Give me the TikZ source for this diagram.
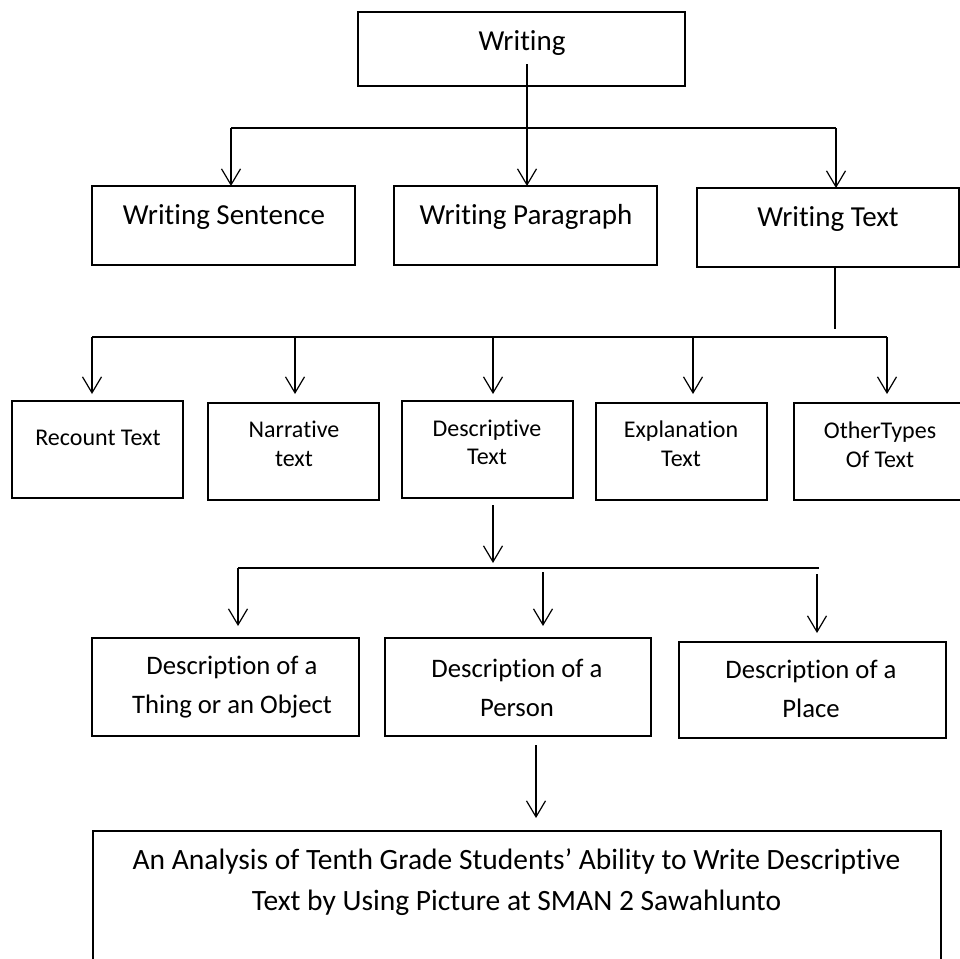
\documentclass[tikz,border=0pt]{standalone}
\usepackage{fontspec}
\setmainfont{Carlito}[Ligatures=NoCommon]
\usetikzlibrary{arrows.meta}
\tikzset{
  box/.style={draw, line width=2.2pt, inner sep=0pt, outer sep=0pt},
  conn/.style={line width=1.2pt},
  arr/.style={line width=1.2pt, -{Straight Barb[length=16pt,width=19pt,line width=1.2pt]}},
  bigtxt/.style={font=\fontsize{29}{35}\selectfont, inner sep=0pt, align=center},
  midtxt/.style={font=\fontsize{24}{28.5}\selectfont, inner sep=0pt, align=center},
  lowtxt/.style={font=\fontsize{26.7}{39}\selectfont, inner sep=0pt, align=center},
  fintxt/.style={font=\fontsize{29.5}{41}\selectfont, inner sep=0pt, align=center},
}
\begin{document}
\begin{tikzpicture}[x=1pt,y=-1pt]
\useasboundingbox (0,0) rectangle (960,958);
\clip (0,0) rectangle (960,958);
% boxes
\node[box, minimum width=327pt, minimum height=74pt] (w) at (521.5,49) {};
\node[box, minimum width=263pt, minimum height=79pt] (ws) at (223.5,225.5) {};
\node[box, minimum width=263pt, minimum height=79pt] (wp) at (525.5,225.5) {};
\node[box, minimum width=262pt, minimum height=79pt] (wt) at (828,227.5) {};
\node[box, minimum width=171pt, minimum height=97pt] (rec) at (97.5,449.5) {};
\node[box, minimum width=171pt, minimum height=97pt] (nar) at (293.5,451.5) {};
\node[box, minimum width=171pt, minimum height=97pt] (des) at (487.5,449.5) {};
\node[box, minimum width=171pt, minimum height=97pt] (exp) at (681.5,451.5) {};
\node[box, minimum width=181pt, minimum height=97pt] (oth) at (884.5,451.5) {};
\node[box, minimum width=267pt, minimum height=98pt] (dot) at (225.5,687) {};
\node[box, minimum width=266pt, minimum height=98pt] (dop) at (518,687) {};
\node[box, minimum width=267pt, minimum height=96pt] (dpl) at (812.5,690) {};
\node[box, minimum width=848pt, minimum height=159pt] (fin) at (517,910.5) {};
% texts
\node[bigtxt] (tw) at (522,43) {Writing};
\node[bigtxt] (tws) at (224,217) {Writing Sentence};
\node[bigtxt] (twp) at (526,217) {Writing Paragraph};
\node[bigtxt] (twt) at (828,219) {Writing Text};
\node[midtxt] (trec) at (98,438) {Recount Text};
\node[midtxt] (tnar) at (294,444) {Narrative\\text};
\node[midtxt] (tdes) at (487,442.5) {Descriptive\\Text};
\node[midtxt] (texp) at (681,444) {Explanation\\Text};
\node[midtxt] (toth) at (880,444.5) {OtherTypes\\Of Text};
\node[lowtxt] (tdot) at (232,687.5) {Description of a\\Thing or an Object};
\node[lowtxt] (tdop) at (517,687.5) {Description of a\\Person};
\node[lowtxt] (tdpl) at (811,689) {Description of a\\Place};
\node[fintxt] (tfin) at (516.5,882.5) {An Analysis of Tenth Grade Students’ Ability to Write Descriptive\\Text by Using Picture at SMAN 2 Sawahlunto};
% level 1 connectors
\coordinate (w1) at (527,64);
\coordinate (b1l) at (231,128);
\coordinate (b1r) at (836,128);
\draw[arr] (w1) -- (w1 |- wp.north);
\draw[conn] (b1l) -- (b1r);
\draw[arr] (b1l) -- (b1l |- ws.north);
\draw[arr] (b1r) -- (b1r |- wt.north);
% level 2 connectors
\coordinate (t1) at (835,329);
\draw[conn] (t1 |- wt.south) -- (t1);
\coordinate (b2l) at (92,337);
\coordinate (b2r) at (887,337);
\coordinate (a2) at (295,337);
\coordinate (a3) at (493,337);
\coordinate (a4) at (693,337);
\coordinate (e2) at (0,394);
\draw[conn] (b2l) -- (b2r);
\draw[arr] (b2l) -- (b2l |- e2);
\draw[arr] (a2) -- (a2 |- e2);
\draw[arr] (a3) -- (a3 |- e2);
\draw[arr] (a4) -- (a4 |- e2);
\draw[arr] (b2r) -- (b2r |- e2);
% level 3 connectors
\coordinate (d1) at (493,505);
\coordinate (d2) at (493,563);
\draw[arr] (d1) -- (d2);
\coordinate (b3l) at (238,568);
\coordinate (b3r) at (819,568);
\draw[conn] (b3l) -- (b3r);
\coordinate (c2) at (543,572);
\coordinate (c3) at (817,574);
\coordinate (e3) at (0,626);
\draw[arr] (b3l) -- (b3l |- e3);
\draw[arr] (c2) -- (c2 |- e3);
\draw[arr] (c3) -- (817,633);
% level 4 connector
\coordinate (p1) at (536,745);
\coordinate (p2) at (536,818);
\draw[arr] (p1) -- (p2);
\end{tikzpicture}
\end{document}
